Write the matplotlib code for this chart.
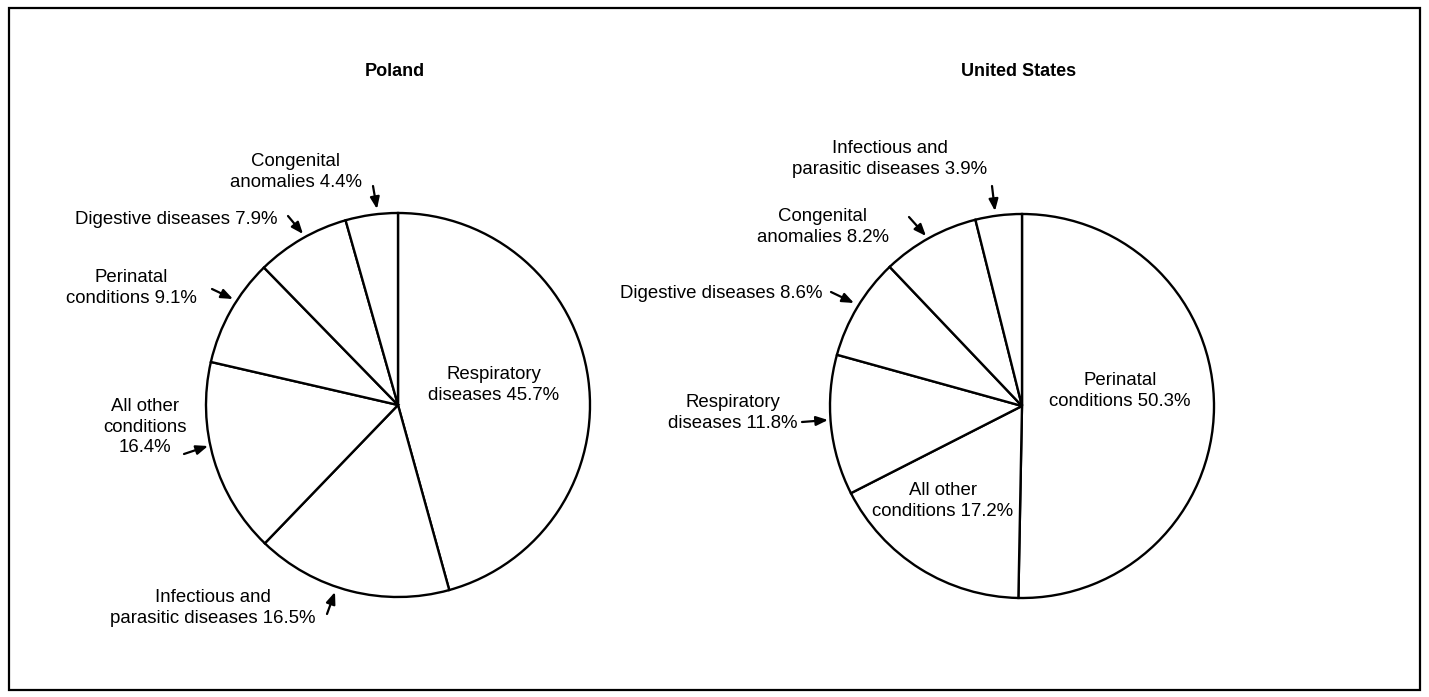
import matplotlib
matplotlib.use("Agg")
import matplotlib.pyplot as plt
from matplotlib.patches import Rectangle

W, H = 1429, 697

# ---- data ----
poland_labels = ["Respiratory\ndiseases 45.7%",
                 "Infectious and\nparasitic diseases 16.5%",
                 "All other\nconditions\n16.4%",
                 "Perinatal\nconditions 9.1%",
                 "Digestive diseases 7.9%",
                 "Congenital\nanomalies 4.4%"]
poland_values = [45.7, 16.5, 16.4, 9.1, 7.9, 4.4]

us_labels = ["Perinatal\nconditions 50.3%",
             "All other\nconditions 17.2%",
             "Respiratory\ndiseases 11.8%",
             "Digestive diseases 8.6%",
             "Congenital\nanomalies 8.2%",
             "Infectious and\nparasitic diseases 3.9%"]
us_values = [50.3, 17.2, 11.8, 8.6, 8.2, 3.9]

titles = ["Poland", "United States"]

# ---- layout (pixel coordinates, y measured from top) ----
centers = [(398, 405), (1022, 406)]
radius = 192
title_y = 72

# label text centre, arrow (tail -> tip) or None for inside labels
poland_layout = [
    ((494, 385), None),
    ((213, 608), ((327, 614), (335, 592))),
    ((145, 427), ((184, 454), (208, 446))),
    ((131, 288), ((212, 289), (233, 299))),
    ((176, 220), ((288, 216), (303, 234))),
    ((296, 172), ((373, 186), (377, 209))),
]
us_layout = [
    ((1120, 391), None),
    ((943, 501), None),
    ((733, 413), ((802, 422), (828, 420))),
    ((721, 293), ((831, 292), (854, 303))),
    ((823, 227), ((909, 217), (926, 236))),
    ((890, 159), ((992, 186), (995, 211))),
]

FONT = "Liberation Sans"
FS = 13.4
LS = 1.27

fig = plt.figure(figsize=(W / 100, H / 100), dpi=100)
ax = fig.add_axes([0, 0, 1, 1])


def Y(y):
    return H - y


for (cx, cy), vals, labels, layout, title in [
    (centers[0], poland_values, poland_labels, poland_layout, titles[0]),
    (centers[1], us_values, us_labels, us_layout, titles[1]),
]:
    ax.pie(vals, startangle=90, counterclock=False, center=(cx, Y(cy)),
           radius=radius, frame=True,
           wedgeprops=dict(facecolor="white", edgecolor="black",
                           linewidth=1.7))
    ax.text(cx - 3, Y(title_y), title, ha="center", va="center",
            fontsize=13, fontweight="bold", family=FONT)
    for lab, ((tx, ty), arr) in zip(labels, layout):
        ax.text(tx, Y(ty), lab, ha="center", va="center", fontsize=FS,
                family=FONT, linespacing=LS, multialignment="center")
        if arr is not None:
            (x0, y0), (x1, y1) = arr
            ax.annotate("", xy=(x1, Y(y1)), xytext=(x0, Y(y0)),
                        arrowprops=dict(arrowstyle="-|>,head_length=0.7,head_width=0.28",
                                        color="black", lw=1.6,
                                        shrinkA=0, shrinkB=0))

# outer frame
ax.add_patch(Rectangle((9, Y(690)), 1411, 682, fill=False,
                       edgecolor="black", linewidth=1.6))

ax.set_xlim(0, W)
ax.set_ylim(0, H)
ax.set_aspect("equal")
ax.axis("off")

fig.savefig("out.png", dpi=100, facecolor="white")
